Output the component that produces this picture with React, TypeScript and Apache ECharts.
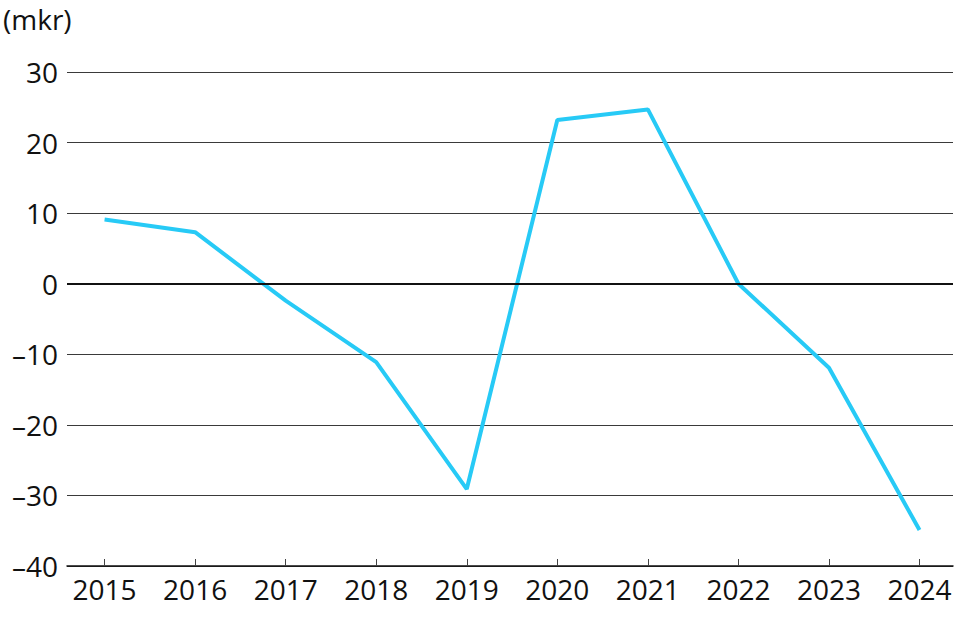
import { useEffect, useRef } from 'react';
import * as echarts from 'echarts';

const YEARS = [2015, 2016, 2017, 2018, 2019, 2020, 2021, 2022, 2023, 2024];
const VALUES = [9.1, 7.3, -2.4, -11.1, -29.1, 23.2, 24.7, 0, -11.9, -34.9];
const Y_TICKS = [-40, -30, -20, -10, 0, 10, 20, 30];
const UNIT = '(mkr)';

const FONT = '"Open Sans", "Noto Sans", sans-serif';

export default function App() {
  const ref = useRef<HTMLDivElement>(null);

  useEffect(() => {
    document.body.style.margin = '0';
    if (!ref.current) return;
    const chart = echarts.init(ref.current, undefined, { renderer: 'svg' });
    const opt: echarts.EChartsOption = {
      animation: false,
      textStyle: { fontFamily: FONT },
      grid: { left: 67, right: 10, top: 72, bottom: 72, containLabel: false },
      graphic: [
        { type: 'text', left: 3, top: 5, style: { text: UNIT, font: `28px ${FONT}`, fill: '#111' } },
      ],
      xAxis: {
        type: 'value',
        min: 2014.585,
        max: 2024.37,
        splitLine: { show: false },
        axisLine: { show: true, onZero: false, lineStyle: { color: '#111', width: 1.5 } },
        axisTick: { show: true, inside: true, length: 7, customValues: YEARS, lineStyle: { color: '#444', width: 1 } },
        axisLabel: { customValues: YEARS, formatter: (v: number) => String(v), color: '#111', fontSize: 28, margin: 9, fontFamily: FONT },
      },
      yAxis: {
        type: 'value',
        min: Y_TICKS[0],
        max: Y_TICKS[Y_TICKS.length - 1],
        interval: 10,
        axisLine: { show: false },
        axisTick: { show: false },
        splitLine: { lineStyle: { color: '#3a3a3a', width: 1.2 } },
        axisLabel: {
          color: '#111', fontSize: 28, margin: 9, fontFamily: FONT,
          formatter: (v: number) => (v < 0 ? '–' + Math.abs(v) : String(v)),
        },
      },
      series: [{
        type: 'line',
        data: YEARS.map((y, i) => [y, VALUES[i]]),
        symbol: 'none',
        lineStyle: { color: '#27caf6', width: 4 },
        markLine: {
          silent: true, symbol: 'none', label: { show: false },
          lineStyle: { color: '#111', width: 2, type: 'solid' },
          data: [{ yAxis: 0 }],
        },
        z: 3,
      }],
    };
    chart.setOption(opt);
    return () => chart.dispose();
  }, []);

  return <div ref={ref} style={{ width: 963, height: 638 }} />;
}
